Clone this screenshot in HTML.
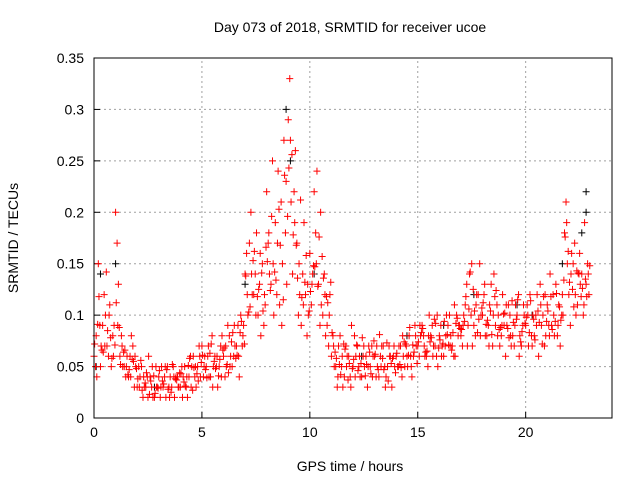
<!DOCTYPE html>
<html><head><meta charset="utf-8"><style>
body{margin:0;background:#fff}
svg{display:block;font-family:"Liberation Sans",sans-serif}
</style></head><body>
<svg id="chart" width="640" height="480">
<text x="350" y="32" font-size="14" text-anchor="middle">Day 073 of 2018, SRMTID for receiver ucoe</text>
<text x="350" y="471" font-size="14" text-anchor="middle">GPS time / hours</text>
<text transform="translate(18,238) rotate(-90)" font-size="14" text-anchor="middle">SRMTID / TECUs</text>
<g id="grid"></g>
<g id="ticks"></g>
<g id="black"></g>
<g id="red"></g>
<rect x="94" y="58" width="518" height="360" fill="none" stroke="#000" stroke-width="1"/>
</svg>
<script>
const xTicks=[0,5,10,15,20];
const yTicks=[0,0.05,0.1,0.15,0.2,0.25,0.3,0.35];
const yTickLabels=["0","0.05","0.1","0.15","0.2","0.25","0.3","0.35"];
const startHour=0, stepHour=0.2;
const redA=[.06,.15,.09,.07,.05,.20,.06,.05,.04,.07,.03,.05,.03,.04,.02,.04,.03,.05,.03,.04,.03,.05,.04,.06,.05,.07,.05,.04,.06,.05,.06,.09,.05,.07,.10,.14,.17,.12,.10,.15,.22,.13,.19,.11,.27,.29,.14,.17,.09,.12,.16,.22,.13,.10,.09,.06,.05,.08,.04,.06,.05,.07,.04,.06,.05,.06,.04,.07,.05,.03,.06,.07,.05,.08,.06,.07,.09,.06,.08,.07,.08,.06,.09,.07,.10,.08,.11,.14,.09,.12,.10,.08,.13,.09,.07,.09,.11,.08,.10,.07,.09,.12,.08,.06,.10,.11,.09,.13,.07,.18,.12,.15,.11,.14,.13];
const redB=[.05,.09,.12,.06,.08,.17,.08,.04,.06,.03,.05,.02,.04,.03,.05,.02,.04,.03,.05,.04,.05,.03,.06,.04,.07,.04,.06,.08,.05,.07,.04,.08,.06,.09,.07,.16,.20,.14,.13,.09,.17,.25,.12,.21,.18,.33,.22,.10,.14,.08,.11,.18,.09,.14,.07,.08,.03,.05,.07,.04,.08,.05,.06,.03,.07,.04,.06,.05,.07,.06,.05,.04,.07,.06,.09,.06,.08,.05,.09,.06,.09,.07,.10,.06,.08,.07,.13,.10,.08,.15,.12,.09,.07,.11,.08,.06,.10,.07,.12,.09,.11,.08,.10,.13,.07,.09,.12,.08,.10,.21,.09,.17,.14,.10,.15];
const redC=[.04,.07,.10,.11,.09,.13,.05,.06,.08,.05,.04,.03,.06,.02,.03,.05,.02,.04,.02,.03,.04,.02,.05,.03,.04,.06,.04,.05,.03,.08,.05,.06,.07,.04,.09,.10,.12,.18,.08,.11,.14,.10,.24,.15,.13,.21,.26,.12,.19,.10,.14,.24,.11,.08,.12,.05,.07,.03,.06,.09,.06,.04,.05,.07,.06,.05,.07,.04,.06,.05,.07,.06,.05,.04,.07,.08,.06,.10,.07,.05,.07,.10,.08,.06,.09,.10,.09,.07,.12,.10,.08,.11,.14,.10,.12,.09,.07,.11,.08,.10,.07,.10,.12,.09,.08,.14,.08,.11,.10,.15,.16,.10,.13,.19,.12];
const redD=[.08,.05,.07,.10,.06,.09,.07,.05,.04,.06,.03,.04,.02,.05,.03,.03,.05,.02,.04,.03,.02,.04,.03,.05,.06,.05,.07,.03,.06,.04,.07,.05,.09,.06,.08,.12,.14,.10,.16,.12,.18,.15,.17,.09,.23,.27,.19,.15,.11,.13,.13,.15,.20,.12,.10,.07,.04,.06,.05,.03,.04,.06,.07,.05,.04,.07,.05,.03,.06,.07,.05,.08,.06,.05,.08,.09,.07,.08,.06,.10,.06,.08,.07,.11,.09,.09,.07,.15,.11,.08,.13,.07,.10,.08,.09,.11,.08,.09,.06,.11,.10,.07,.09,.11,.12,.08,.10,.09,.12,.19,.14,.12,.16,.11,.14];
const redE=[.072,.118,.064,.085,.058,.112,.052,.066,.047,.055,.038,.027,.044,.036,.024,.046,.033,.028,.052,.037,.043,.031,.058,.049,.036,.061,.039,.072,.048,.057,.068,.044,.083,.061,.094,.138,.108,.162,.125,.104,.152,.196,.134,.168,.236,.243,.178,.136,.117,.158,.123,.147,.176,.136,.112,.083,.058,.042,.067,.053,.057,.046,.078,.052,.043,.062,.081,.047,.036,.058,.063,.049,.072,.088,.064,.074,.087,.065,.078,.092,.076,.094,.071,.083,.097,.086,.118,.142,.104,.096,.112,.095,.081,.124,.088,.102,.078,.093,.115,.084,.098,.114,.076,.093,.118,.104,.086,.121,.095,.176,.132,.108,.141,.126,.118];
const redF=[.091,.066,.142,.078,.071,.088,.064,.042,.057,.048,.056,.034,.023,.041,.029,.036,.047,.025,.038,.044,.035,.051,.027,.043,.054,.047,.063,.055,.041,.066,.052,.074,.058,.083,.072,.103,.153,.118,.141,.166,.124,.142,.203,.115,.196,.256,.168,.212,.132,.104,.148,.128,.157,.118,.132,.064,.052,.072,.037,.048,.071,.053,.041,.064,.075,.047,.058,.073,.053,.044,.052,.074,.061,.071,.053,.083,.064,.074,.096,.068,.072,.081,.066,.092,.087,.094,.106,.125,.083,.107,.091,.104,.118,.086,.101,.087,.114,.096,.074,.092,.083,.096,.104,.072,.094,.118,.094,.108,.134,.162,.125,.143,.118,.135,.148];
const redOffsets=[0,0.07,0.13,0.1,0.03,0.17];
const blackHours=[0.1,0.3,1.0,2.8,7.0,8.9,9.1,10.2,12.4,14.5,16.2,17.6,19.6,20.3,21.7,22.6,22.8,22.8];
const blackValues=[.05,.14,.15,.03,.13,.30,.25,.14,.06,.08,.09,.12,.11,.10,.15,.18,.20,.22];
const X0=94,X1=612,Y0=418,Y1=58,XMAX=24,YMAX=0.35;
const sx=h=>X0+h/XMAX*(X1-X0);
const sy=v=>Y0-v/YMAX*(Y0-Y1);
const NS="http://www.w3.org/2000/svg";
function mk(tag,attrs,parent){const e=document.createElementNS(NS,tag);for(const k in attrs)e.setAttribute(k,attrs[k]);parent.appendChild(e);return e;}
const grid=document.getElementById('grid'),ticks=document.getElementById('ticks');
yTicks.forEach((v,i)=>{
  const y=sy(v);
  if(v>0&&v<YMAX){const l=mk('line',{x1:X0,x2:X1,y1:y,y2:y,stroke:'#a0a0a0','stroke-dasharray':'2,3'},grid);
  
  }
  const t=mk('text',{x:X0-10,y:y+5,'font-size':14,'text-anchor':'end'},ticks);t.textContent=yTickLabels[i];
  
  
  mk('line',{x1:X0,x2:X0+6,y1:y,y2:y,stroke:'#000'},ticks);
});
xTicks.forEach(h=>{
  const x=sx(h);
  if(h>0){const l=mk('line',{x1:x,x2:x,y1:Y0,y2:Y1,stroke:'#a0a0a0','stroke-dasharray':'2,3'},grid);
  
  }
  const t=mk('text',{x:x,y:Y0+19,'font-size':14,'text-anchor':'middle'},ticks);t.textContent=String(h);
  
  
  mk('line',{x1:x,x2:x,y1:Y0,y2:Y0-6,stroke:'#000'},ticks);
});
function plus(g,h,v,color){
  const x=sx(h),y=sy(v);
  const p=mk('path',{d:`M${x-3.5},${y}h7M${x},${y-3.5}v7`,stroke:color,'stroke-width':1,fill:'none'},g);
  
  
}
const bg=document.getElementById('black');
blackHours.forEach((h,i)=>plus(bg,h,blackValues[i],'#000'));
const rg=document.getElementById('red');
[redA,redB,redC,redD,redE,redF].forEach((s,k)=>s.forEach((v,i)=>plus(rg,startHour+i*stepHour+redOffsets[k],v,'#ff0000')));
</script>
</body></html>
